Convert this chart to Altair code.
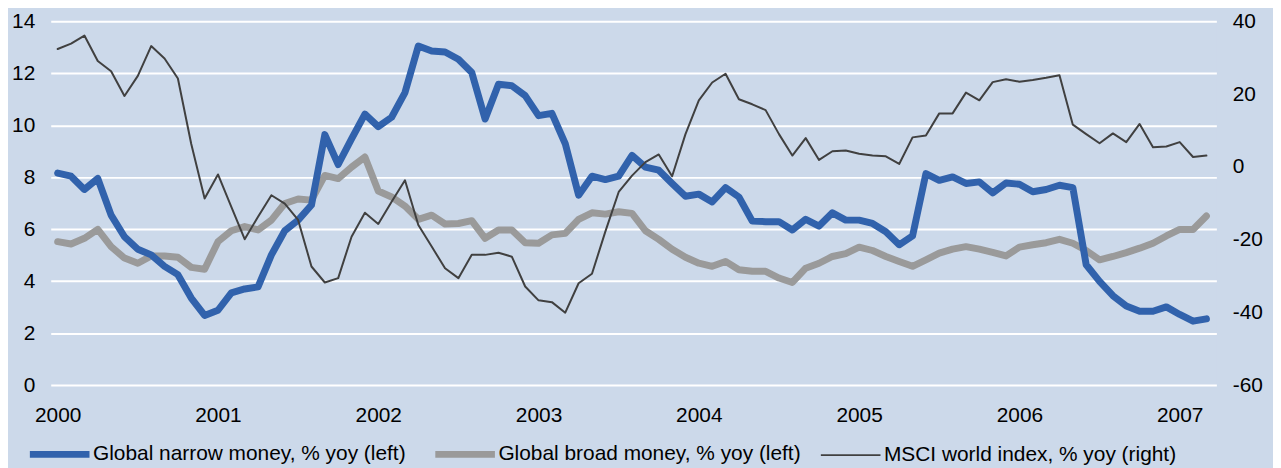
import altair as alt
import pandas as pd

# ---- data (monthly, Jan 2000 .. Mar 2007) ----
narrow = [
    8.16, 8.04, 7.53, 7.95, 6.54, 5.71, 5.23, 5.01, 4.57, 4.25, 3.35, 2.68,
    2.88, 3.55, 3.70, 3.78, 5.01, 5.94, 6.35, 6.93, 9.64, 8.49, 9.48, 10.43,
    9.95, 10.31, 11.26, 13.05, 12.86, 12.82, 12.54, 12.03, 10.24, 11.58, 11.52, 11.14,
    10.37, 10.46, 9.29, 7.31, 8.04, 7.91, 8.04, 8.84, 8.39, 8.27, 7.76, 7.27,
    7.35, 7.05, 7.60, 7.24, 6.31, 6.29, 6.29, 5.97, 6.38, 6.12, 6.63, 6.35,
    6.35, 6.22, 5.90, 5.40, 5.74, 8.14, 7.88, 8.01, 7.76, 7.82, 7.40, 7.78,
    7.73, 7.44, 7.53, 7.69, 7.60, 4.63, 3.99, 3.44, 3.04, 2.84, 2.84, 3.01,
    2.72, 2.46, 2.55,
]
broad = [
    5.52, 5.43, 5.65, 5.99, 5.33, 4.89, 4.69, 4.97, 4.97, 4.92, 4.53, 4.46,
    5.52, 5.94, 6.10, 5.97, 6.35, 6.99, 7.16, 7.12, 8.07, 7.95, 8.39, 8.78,
    7.47, 7.24, 6.89, 6.38, 6.54, 6.20, 6.22, 6.33, 5.65, 5.97, 5.97, 5.48,
    5.46, 5.78, 5.84, 6.38, 6.63, 6.58, 6.67, 6.61, 5.94, 5.61, 5.23, 4.92,
    4.69, 4.57, 4.76, 4.44, 4.38, 4.38, 4.12, 3.95, 4.50, 4.69, 4.95, 5.06,
    5.31, 5.18, 4.95, 4.76, 4.57, 4.82, 5.08, 5.23, 5.33, 5.23, 5.11, 4.97,
    5.31, 5.40, 5.48, 5.61, 5.46, 5.18, 4.82, 4.95, 5.10, 5.27, 5.46, 5.74,
    5.99, 5.99, 6.51,
]
msci = [
    32.4, 33.9, 36.1, 29.1, 26.3, 19.5, 25.0, 33.2, 29.8, 24.3, 6.3, -8.7,
    -2.1, -11.0, -19.9, -13.7, -7.8, -10.1, -14.6, -27.4, -31.8, -30.6, -19.2, -12.6,
    -15.7, -9.6, -3.7, -16.0, -21.9, -27.9, -30.6, -24.2, -24.2, -23.6, -24.7, -32.9,
    -36.7, -37.2, -40.1, -32.0, -29.4, -17.8, -6.9, -2.4, 1.3, 3.4, -2.6, 9.0,
    18.3, 23.2, 25.6, 18.6, 17.2, 15.6, 9.0, 3.1, 7.9, 1.9, 4.3, 4.5,
    3.6, 3.1, 2.9, 0.8, 8.1, 8.6, 14.7, 14.7, 20.4, 18.3, 23.3, 24.1,
    23.4, 23.9, 24.5, 25.2, 11.6, 9.0, 6.5, 9.2, 6.8, 11.8, 5.4, 5.6,
    6.8, 2.7, 3.1,
]

series_names = [
    "Global narrow money, % yoy (left)",
    "Global broad money, % yoy (left)",
    "MSCI world index, % yoy (right)",
]
series_colors = ["#3162ac", "#9a9a9a", "#404040"]
series_widths = [7, 7, 2]
left_ticks = [0, 2, 4, 6, 8, 10, 12, 14]
right_ticks = [-60, -40, -20, 0, 20, 40]
year_ticks = [2000, 2001, 2002, 2003, 2004, 2005, 2006, 2007]

months = [2000 + i / 12 for i in range(len(narrow))]

rows = []
for name, vals in zip(series_names, [narrow, broad, msci]):
    for t, v in zip(months, vals):
        rows.append({"t": t, "value": v, "series": name})
df = pd.DataFrame(rows)

FONT = "Liberation Sans"
BG = "#ccd9ea"

legend = alt.Legend(
    orient="none", legendX=-24.5, legendY=402, direction="horizontal", columns=3,
    title=None, symbolType="stroke", symbolSize=3600,
    labelFont=FONT, labelFontSize=21, labelColor="black", labelOffset=0,
    columnPadding=15, labelLimit=800, padding=0,
)

color = alt.Color("series:N", scale=alt.Scale(domain=series_names, range=series_colors), legend=legend)
swidth = alt.StrokeWidth("series:N", scale=alt.Scale(type="ordinal", domain=series_names, range=series_widths), legend=legend)

xenc = alt.X(
    "t:Q",
    scale=alt.Scale(domain=[2000 - 7 / 161.3, 2000 + 1166 / 161.3], nice=False, zero=False),
    axis=alt.Axis(values=year_ticks, format="d", title=None, grid=False, domain=False, ticks=False,
                  labelFont=FONT, labelFontSize=21, labelColor="black", labelPadding=20),
)

yleft = alt.Y(
    "value:Q",
    scale=alt.Scale(domain=[0, 14], nice=False, zero=False),
    axis=alt.Axis(values=left_ticks, title=None, grid=True, gridColor="white", gridWidth=2,
                  domain=False, ticks=False, labelFont=FONT, labelFontSize=21, labelColor="black",
                  labelPadding=16),
)
yright = alt.Y(
    "value:Q",
    scale=alt.Scale(domain=[-60, 40], nice=False, zero=False),
    axis=alt.Axis(values=right_ticks, orient="right", title=None, grid=False,
                  labelExpr="'' + datum.value",
                  domain=False, ticks=False, labelFont=FONT, labelFontSize=21, labelColor="black",
                  labelPadding=16),
)

base = alt.Chart(df).mark_line(strokeCap="round", strokeJoin="round")

grey = base.transform_filter(alt.datum.series == series_names[1]).encode(x=xenc, y=yleft, color=color, strokeWidth=swidth)
blue = base.transform_filter(alt.datum.series == series_names[0]).encode(x=xenc, y=yleft, color=color, strokeWidth=swidth)
dark = base.transform_filter(alt.datum.series == series_names[2]).encode(x=xenc, y=yright, color=color, strokeWidth=swidth)

left = alt.layer(grey, blue)
chart = (
    alt.layer(left, dark)
    .resolve_scale(y="independent")
    .properties(
        width=1173, height=366,
        autosize=alt.AutoSizeParams(type="none"),
        padding={"left": 43, "top": 12, "right": 57, "bottom": 82},
        background=BG,
    )
    .configure_view(stroke=None, fill=BG)
)

chart.save("out.html", embed_options={"renderer": "svg", "actions": False})
